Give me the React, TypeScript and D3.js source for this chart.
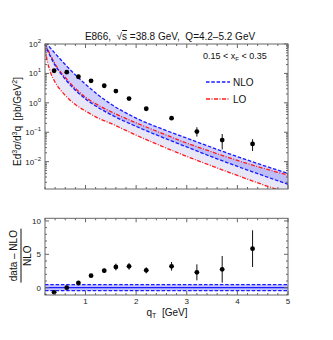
import React from "react";
import * as d3 from "d3";

// ---- data ----
const qtKnots = [0.2, 0.25, 0.3, 0.4, 0.5, 0.6, 0.8, 1.0, 1.25, 1.5, 2.0, 2.5, 3.0, 3.5, 4.0, 4.5, 5.0];
const nloUpper = [178, 100, 75.9, 47.9, 30.9, 20.0, 8.91, 4.27, 1.86, 0.912, 0.302, 0.132, 0.0631, 0.0302, 0.0148, 0.00759, 0.00398];
const nloLower = [100, 60.3, 39.8, 18.6, 10.5, 6.31, 2.69, 1.35, 0.692, 0.398, 0.158, 0.0692, 0.0316, 0.0145, 0.00692, 0.00339, 0.0017];
const loUpper = [112, 67.6, 44.7, 20.9, 11.7, 7.24, 3.09, 1.55, 0.832, 0.501, 0.209, 0.0933, 0.0427, 0.0214, 0.011, 0.00603, 0.00347];
const loLower = [70.8, 24.0, 12.0, 5.01, 2.82, 1.78, 0.871, 0.525, 0.302, 0.2, 0.0794, 0.0339, 0.0151, 0.00708, 0.00339, 0.00166, 0.00085];

const dataQt = [0.38, 0.63, 0.86, 1.11, 1.37, 1.6, 1.86, 2.2, 2.7, 3.2, 3.7, 4.3];
const dataXs = [12.3, 11.0, 7.7, 5.6, 3.8, 2.5, 1.4, 0.63, 0.30, 0.105, 0.054, 0.040];
const dataErrUp = [0.5, 0.4, 0.3, 0.2, 0.15, 0.1, 0.06, 0.03, 0.03, 0.043, 0.033, 0.018];
const dataErrDown = [0.5, 0.4, 0.3, 0.2, 0.15, 0.1, 0.06, 0.03, 0.03, 0.034, 0.028, 0.017];

const ratioVal = [-0.7, 0.0, 0.7, 1.8, 2.55, 3.1, 3.2, 2.6, 3.2, 2.3, 2.75, 5.85];
const ratioErr = [0.1, 0.1, 0.15, 0.2, 0.3, 0.5, 0.5, 0.45, 0.65, 1.2, 2.0, 2.75];
const ratioBandQt = [0.2, 5.0];
const ratioBandLo = [-0.45, -0.45];
const ratioBandHi = [0.45, 0.45];
const ratioCenter = [0, 0];

const xTickLabels = ["1", "2", "3", "4", "5"];
const xTickValues = [1, 2, 3, 4, 5];
const logTickExps = [-2, -1, 0, 1, 2];
const ratioTicks = [0, 5, 10];

// ---- layout ----
const L = 45, R = 288;
const T1 = 44, B1 = 189;
const T2 = 218.3, B2 = 295;
const FONT = "'Liberation Sans', Arial, Helvetica, sans-serif";
const FRAME = "#666";
const BLUE = "#1a1aff";
const RED = "#ff1a1a";
const PRE = { whiteSpace: "pre" } as React.CSSProperties;

export default function App() {
  const x = d3.scaleLinear().domain([0.2, 5]).range([L, R]);
  const y1 = d3.scaleLog().domain([Math.pow(10, -2.93), 100]).range([B1, T1]);
  const y2 = d3.scaleLinear().domain([-1.1, 10.4]).range([B2, T2]);

  const idx = qtKnots.map((_, i) => i);
  const lineOf = (arr: number[]) =>
    d3.line<number>().x((i) => x(qtKnots[i])).y((i) => y1(arr[i])).curve(d3.curveMonotoneX)(idx) || "";
  const areaOf = (hi: number[], lo: number[]) =>
    d3
      .area<number>()
      .x((i) => x(qtKnots[i]))
      .y0((i) => y1(lo[i]))
      .y1((i) => y1(hi[i]))
      .curve(d3.curveMonotoneX)(idx) || "";

  const bIdx = ratioBandQt.map((_, i) => i);
  const bandArea =
    d3
      .area<number>()
      .x((i) => x(ratioBandQt[i]))
      .y0((i) => y2(ratioBandLo[i]))
      .y1((i) => y2(ratioBandHi[i]))(bIdx) || "";
  const bandLine = (arr: number[]) =>
    d3.line<number>().x((i) => x(ratioBandQt[i])).y((i) => y2(arr[i]))(bIdx) || "";

  const minorX = d3.range(0.2, 5.001, 0.2).filter((v) => Math.abs(v - Math.round(v)) > 0.01);
  const minorLog: number[] = [];
  for (let e = -3; e <= 1; e++) for (let m = 2; m <= 9; m++) {
    const v = m * Math.pow(10, e);
    if (v >= Math.pow(10, -2.93) && v <= 100) minorLog.push(v);
  }
  const minorRatio = d3.range(-1, 11, 1).filter((v) => v % 5 !== 0 && v <= 10.4);

  const xTicksFor = (top: number, bot: number, key: string) => (
    <g key={key}>
      {xTickValues.map((v) => (
        <g key={"M" + v}>
          <line x1={x(v)} x2={x(v)} y1={bot} y2={bot - 4} stroke={FRAME} />
          <line x1={x(v)} x2={x(v)} y1={top} y2={top + 4} stroke={FRAME} />
        </g>
      ))}
      {minorX.map((v) => (
        <g key={"m" + v}>
          <line x1={x(v)} x2={x(v)} y1={bot} y2={bot - 2} stroke={FRAME} />
          <line x1={x(v)} x2={x(v)} y1={top} y2={top + 2} stroke={FRAME} />
        </g>
      ))}
    </g>
  );

  return (
    <svg width={333} height={340} style={{ position: "absolute", left: 0, top: 0 }} fontFamily={FONT}>
      <rect x={0} y={0} width={333} height={340} fill="white" />
      <defs>
        <clipPath id="c1">
          <rect x={L} y={T1} width={R - L} height={B1 - T1} />
        </clipPath>
        <clipPath id="c2">
          <rect x={L} y={T2} width={R - L} height={B2 - T2} />
        </clipPath>
      </defs>

      {/* Title */}
      <text x={170} y={40} fontSize={10} textAnchor="middle" fill="#111" style={PRE}>
        {"E866,  √"}<tspan style={{ textDecoration: "overline", whiteSpace: "pre" }}>s</tspan>{" =38.8 GeV,  Q=4.2–5.2 GeV"}
      </text>

      {/* Top panel curves */}
      <g clipPath="url(#c1)">
        <path d={areaOf(loUpper, loLower)} fill="rgba(120,120,210,0.18)" />
        <path d={areaOf(nloUpper, nloLower)} fill="rgba(40,40,255,0.22)" />
        <path d={lineOf(loUpper)} fill="none" stroke={RED} strokeWidth={1.3} strokeDasharray="4,1.5,1,1.5" />
        <path d={lineOf(loLower)} fill="none" stroke={RED} strokeWidth={1.3} strokeDasharray="4,1.5,1,1.5" />
        <path d={lineOf(nloUpper)} fill="none" stroke={BLUE} strokeWidth={1.3} strokeDasharray="3.5,1.8" />
        <path d={lineOf(nloLower)} fill="none" stroke={BLUE} strokeWidth={1.3} strokeDasharray="3.5,1.8" />
        {dataQt.map((q, i) => (
          <g key={i}>
            <line x1={x(q)} x2={x(q)} y1={y1(dataXs[i] + dataErrUp[i])} y2={y1(dataXs[i] - dataErrDown[i])} stroke="#111" strokeWidth={1} />
            <circle cx={x(q)} cy={y1(dataXs[i])} r={2.4} fill="#000" />
          </g>
        ))}
      </g>

      {/* Top frame & ticks */}
      <rect x={L} y={T1} width={R - L} height={B1 - T1} fill="none" stroke={FRAME} strokeWidth={1} />
      {xTicksFor(T1, B1, "xt1")}
      {logTickExps.map((e) => {
        const yy = y1(Math.pow(10, e));
        return (
          <g key={"ly" + e}>
            <line x1={L} x2={L + 4} y1={yy} y2={yy} stroke={FRAME} />
            <line x1={R} x2={R - 4} y1={yy} y2={yy} stroke={FRAME} />
            <text x={L - 4} y={yy + 3} fontSize={8} textAnchor="end" fill="#222">
              10<tspan dy={-4} fontSize={6}>{e < 0 ? "−" + Math.abs(e) : String(e)}</tspan>
            </text>
          </g>
        );
      })}
      {minorLog.map((v, i) => (
        <g key={"mly" + i}>
          <line x1={L} x2={L + 2} y1={y1(v)} y2={y1(v)} stroke={FRAME} />
          <line x1={R} x2={R - 2} y1={y1(v)} y2={y1(v)} stroke={FRAME} />
        </g>
      ))}

      {/* Top y label */}
      <text transform={`translate(21,${(T1 + B1) / 2 + 5}) rotate(-90)`} fontSize={10} textAnchor="middle" fill="#111" style={PRE}>
        Ed<tspan dy={-4} fontSize={7}>3</tspan>
        <tspan dy={4} fontStyle="italic">σ</tspan>/d<tspan dy={-4} fontSize={7}>3</tspan>
        <tspan dy={4}>{"q  [pb/GeV"}</tspan>
        <tspan dy={-4} fontSize={7}>2</tspan>
        <tspan dy={4}>]</tspan>
      </text>

      {/* Legend */}
      <text x={203} y={59} fontSize={9} fill="#111" style={PRE}>
        {"0.15 < x"}<tspan dy={2} fontSize={6}>F</tspan>
        <tspan dy={-2}>{" < 0.35"}</tspan>
      </text>
      <line x1={206} x2={230} y1={82} y2={82} stroke={BLUE} strokeWidth={1.3} strokeDasharray="3.5,1.8" />
      <text x={233} y={85.5} fontSize={10} fill="#111">NLO</text>
      <line x1={206} x2={230} y1={99} y2={99} stroke={RED} strokeWidth={1.3} strokeDasharray="4,1.5,1,1.5" />
      <text x={233} y={102.5} fontSize={10} fill="#111">LO</text>

      {/* Bottom panel */}
      <g clipPath="url(#c2)">
        <path d={bandArea} fill="rgba(40,40,255,0.28)" />
        <path d={bandLine(ratioBandHi)} fill="none" stroke={BLUE} strokeWidth={1.3} strokeDasharray="3.5,1.8" />
        <path d={bandLine(ratioBandLo)} fill="none" stroke={BLUE} strokeWidth={1.3} strokeDasharray="3.5,1.8" />
        <path d={bandLine(ratioCenter)} fill="none" stroke={BLUE} strokeWidth={1.3} />
        {dataQt.map((q, i) => (
          <g key={i}>
            <line x1={x(q)} x2={x(q)} y1={y2(ratioVal[i] + ratioErr[i])} y2={y2(ratioVal[i] - ratioErr[i])} stroke="#111" strokeWidth={1} />
            <circle cx={x(q)} cy={y2(ratioVal[i])} r={2.4} fill="#000" />
          </g>
        ))}
      </g>
      <rect x={L} y={T2} width={R - L} height={B2 - T2} fill="none" stroke={FRAME} strokeWidth={1} />
      {xTicksFor(T2, B2, "xt2")}
      {ratioTicks.map((v) => (
        <g key={"ry" + v}>
          <line x1={L} x2={L + 4} y1={y2(v)} y2={y2(v)} stroke={FRAME} />
          <line x1={R} x2={R - 4} y1={y2(v)} y2={y2(v)} stroke={FRAME} />
          <text x={L - 4} y={y2(v) + 3} fontSize={8} textAnchor="end" fill="#222">{v}</text>
        </g>
      ))}
      {minorRatio.map((v) => (
        <g key={"mry" + v}>
          <line x1={L} x2={L + 2} y1={y2(v)} y2={y2(v)} stroke={FRAME} />
          <line x1={R} x2={R - 2} y1={y2(v)} y2={y2(v)} stroke={FRAME} />
        </g>
      ))}
      {xTickValues.map((v, i) => (
        <text key={"xl" + v} x={x(v)} y={B2 + 9} fontSize={8} textAnchor="middle" fill="#222">{xTickLabels[i]}</text>
      ))}

      {/* x label */}
      <text x={167} y={316} fontSize={10} textAnchor="middle" fill="#111" style={PRE}>
        q<tspan dy={2} fontSize={7}>T</tspan>
        <tspan dy={-2}>{"  [GeV]"}</tspan>
      </text>

      {/* bottom y label (fraction) */}
      <g transform={`translate(21,${(T2 + B2) / 2 - 1}) rotate(-90)`}>
        <text x={0} y={-4} fontSize={10} textAnchor="middle" fill="#111">data – NLO</text>
        <line x1={-27} x2={27} y1={0} y2={0} stroke="#111" strokeWidth={1} />
        <text x={0} y={10} fontSize={10} textAnchor="middle" fill="#111">NLO</text>
      </g>
    </svg>
  );
}
